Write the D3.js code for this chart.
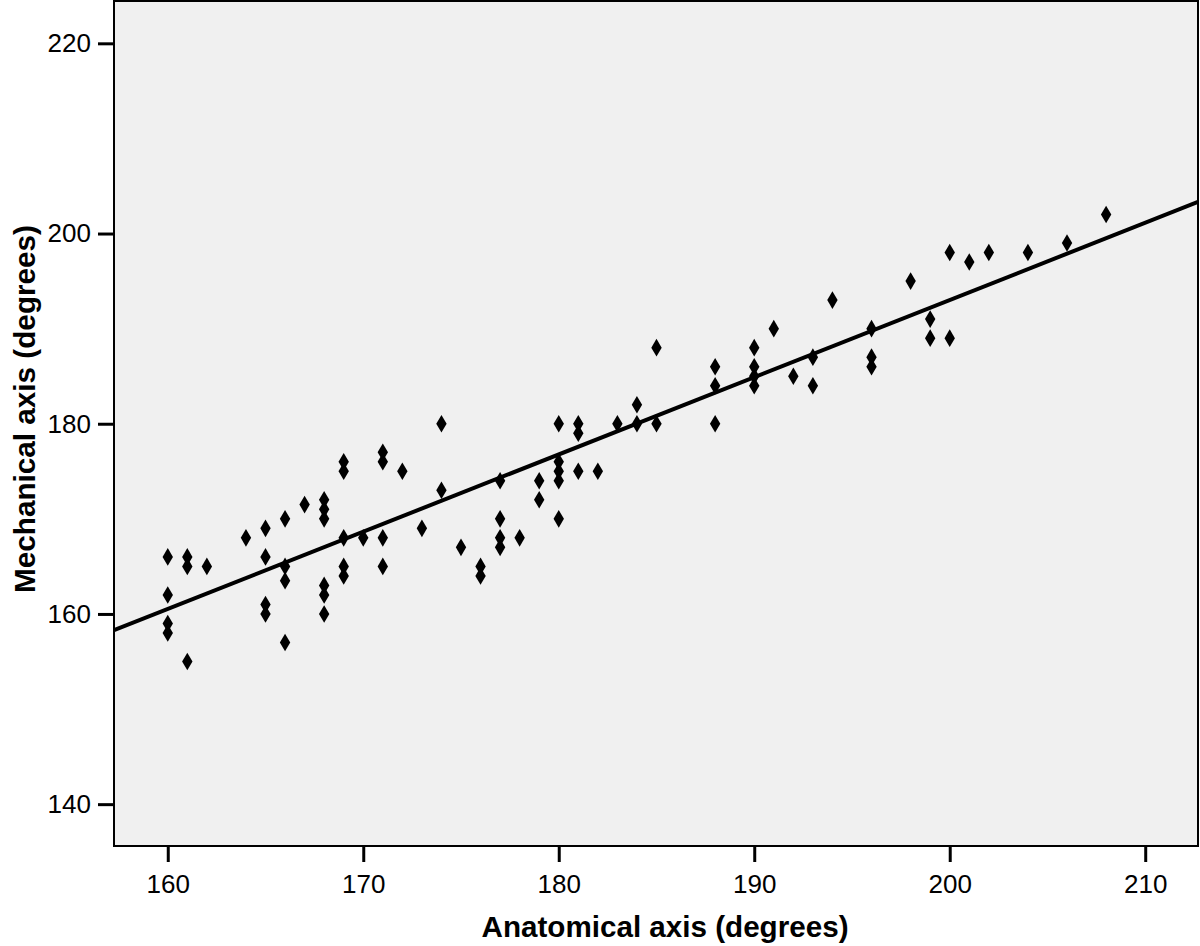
<!DOCTYPE html>
<html>
<head>
<meta charset="utf-8">
<script src="https://cdn.jsdelivr.net/npm/d3@7"></script>
<style>
  html, body { margin: 0; padding: 0; background: #fff; }
  svg { display: block; font-family: "Liberation Sans", Arial, Helvetica, sans-serif; }
</style>
</head>
<body>
<svg id="chart" width="1200" height="946"></svg>
<script>
// Anatomical axis (x, degrees) values of each point
const anatomical = [
  160,160,160,160,
  161,161,161,
  162,
  164,
  165,165,165,165,
  166,166,166,166,
  167,
  168,168,168,168,168,168,
  169,169,169,169,169,
  170,
  171,171,171,171,
  172,
  173,
  174,174,
  175,
  176,176,
  177,177,177,177,
  178,
  179,179,
  180,180,180,180,180,
  181,181,181,
  182,
  183,
  184,184,
  185,185,
  188,188,188,
  190,190,190,190,
  191,
  192,
  193,193,
  194,
  196,196,196,
  198,
  199,199,
  200,200,
  201,
  202,
  204,
  206,
  208
];
// Mechanical axis (y, degrees) values, same order
const mechanical = [
  166,162,159,158,
  166,165,155,
  165,
  168,
  169,166,161,160,
  170,165,163.5,157,
  171.5,
  172,171,170,163,162,160,
  176,175,168,165,164,
  168,
  177,176,168,165,
  175,
  169,
  180,173,
  167,
  165,164,
  174,170,168,167,
  168,
  174,172,
  180,176,175,174,170,
  180,179,175,
  175,
  180,
  182,180,
  188,180,
  186,184,180,
  188,186,185,184,
  190,
  185,
  187,184,
  193,
  190,187,186,
  195,
  191,189,
  198,189,
  197,
  198,
  198,
  199,
  202
];
// Fitted regression line
const fitIntercept = 30.61;
const fitSlope = 0.812;

const xTicks = [160, 170, 180, 190, 200, 210];
const yTicks = [140, 160, 180, 200, 220];
const xTitle = "Anatomical axis (degrees)";
const yTitle = "Mechanical axis (degrees)";

const svg = d3.select("#chart");
const plot = { left: 114, right: 1198, top: 1, bottom: 846 };

const x = d3.scaleLinear().domain([157.25, 212.7]).range([plot.left, plot.right]);
const y = d3.scaleLinear().domain([135.6, 224.45]).range([plot.bottom, plot.top]);

// plot background
svg.append("rect")
  .attr("x", plot.left).attr("y", plot.top)
  .attr("width", plot.right - plot.left).attr("height", plot.bottom - plot.top)
  .attr("fill", "#f0f0f0");

svg.append("clipPath").attr("id", "clip")
  .append("rect")
  .attr("x", plot.left).attr("y", plot.top)
  .attr("width", plot.right - plot.left).attr("height", plot.bottom - plot.top);

// regression line
const xd = x.domain();
svg.append("line")
  .attr("clip-path", "url(#clip)")
  .attr("x1", x(xd[0])).attr("y1", y(fitIntercept + fitSlope * xd[0]))
  .attr("x2", x(xd[1])).attr("y2", y(fitIntercept + fitSlope * xd[1]))
  .attr("stroke", "#000").attr("stroke-width", 4);

// points (tall diamonds)
const points = anatomical.map((a, i) => ({ a, m: mechanical[i] }));
const hw = 5.2, hh = 8.8;
svg.append("g").selectAll("path")
  .data(points)
  .join("path")
  .attr("transform", d => `translate(${x(d.a)},${y(d.m)})`)
  .attr("d", `M0,${-hh}L${hw},0L0,${hh}L${-hw},0Z`)
  .attr("fill", "#000");

// frame
svg.append("rect")
  .attr("x", plot.left).attr("y", plot.top)
  .attr("width", plot.right - plot.left).attr("height", plot.bottom - plot.top)
  .attr("fill", "none").attr("stroke", "#000").attr("stroke-width", 2);

// axes
const xAxis = d3.axisBottom(x).tickValues(xTicks).tickSize(16).tickPadding(10).tickFormat(d3.format("d"));
const gx = svg.append("g").attr("transform", `translate(0,${plot.bottom})`).call(xAxis);
gx.select(".domain").remove();
gx.selectAll(".tick line").attr("stroke", "#000").attr("stroke-width", 3);
gx.selectAll(".tick text").attr("font-size", 26).attr("fill", "#000").attr("dy", "0.8em");

const yAxis = d3.axisLeft(y).tickValues(yTicks).tickSize(16).tickPadding(7).tickFormat(d3.format("d"));
const gy = svg.append("g").attr("transform", `translate(${plot.left},0)`).call(yAxis);
gy.select(".domain").remove();
gy.selectAll(".tick line").attr("stroke", "#000").attr("stroke-width", 3);
gy.selectAll(".tick text").attr("font-size", 26).attr("fill", "#000");

// titles
svg.append("text")
  .attr("x", 665).attr("y", 937)
  .attr("text-anchor", "middle")
  .attr("font-size", 29).attr("font-weight", "bold")
  .attr("textLength", 367).attr("lengthAdjust", "spacingAndGlyphs")
  .text(xTitle);

svg.append("text")
  .attr("transform", `translate(35,409) rotate(-90)`)
  .attr("text-anchor", "middle")
  .attr("font-size", 29).attr("font-weight", "bold")
  .attr("textLength", 368).attr("lengthAdjust", "spacingAndGlyphs")
  .text(yTitle);
</script>
</body>
</html>
